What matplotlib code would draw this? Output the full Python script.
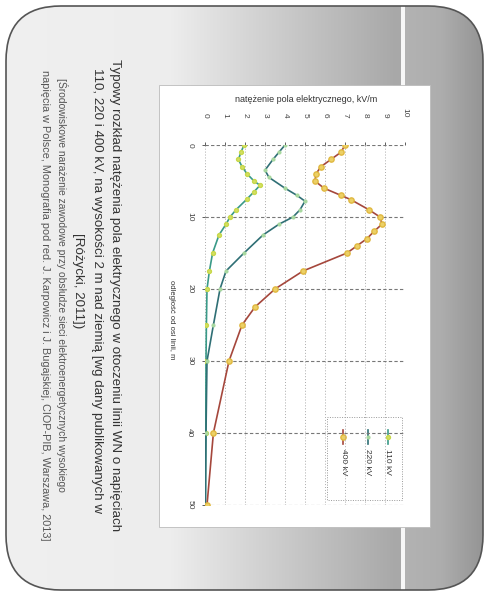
import numpy as np
import matplotlib
matplotlib.use('Agg')
import matplotlib.pyplot as plt
from matplotlib.patches import FancyBboxPatch, Rectangle
from matplotlib.lines import Line2D

plt.rcParams['font.family'] = ['Liberation Sans', 'DejaVu Sans']

# data (distance from line axis in m, field in kV/m)
d_110 = [0, 1, 2, 3, 4, 5, 5.6, 6.5, 7.5, 9, 10, 11, 12.5, 15, 17.5, 20, 25, 30, 40, 50]
e_110 = [1.95, 1.8, 1.67, 1.85, 2.1, 2.45, 2.75, 2.45, 2.1, 1.55, 1.25, 1.05, 0.7, 0.38, 0.22, 0.1, 0.07, 0.05, 0.04, 0.02]

d_220 = [0, 1, 2, 3.5, 4.5, 6, 7, 7.8, 9, 10, 11, 12.5, 15, 17.5, 20, 25, 30, 40, 50]
e_220 = [4.0, 3.7, 3.4, 3.0, 3.2, 4.0, 4.6, 5.0, 4.75, 4.4, 3.7, 2.9, 1.95, 1.05, 0.75, 0.42, 0.1, 0.05, 0.02]

d_400 = [0, 1, 2, 3, 4, 5, 6, 7, 7.6, 9, 10, 11, 12, 13, 14, 15, 17.5, 20, 22.5, 25, 30, 40, 50]
e_400 = [7.0, 6.8, 6.3, 5.8, 5.55, 5.5, 5.95, 6.8, 7.3, 8.2, 8.75, 8.85, 8.45, 8.1, 7.6, 7.1, 4.9, 3.5, 2.5, 1.85, 1.2, 0.42, 0.1]

series_labels = ['110 kV', '220 kV', '400 kV']
value_ticks = list(range(0, 11))
dist_ticks = [0, 10, 20, 30, 40, 50]

title_lines = [
    'Typowy rozkład natężenia pola elektrycznego w otoczeniu linii WN o napięciach',
    '110, 220 i 400 kV, na wysokości 2 m nad ziemią [wg dany publikowanych w',
    '[Różycki, 2011])',
]
source_lines = [
    '[Środowiskowe narażenie zawodowe przy obsłudze sieci elektroenergetycznych wysokiego',
    'napięcia w Polsce, Monografia pod red. J. Karpowicz i J. Bugajskiej, CIOP-PIB, Warszawa, 2013]',
]

W, H = 489, 596
fig = plt.figure(figsize=(W / 100, H / 100), dpi=100)

# slide background in pixel coordinates
bg = fig.add_axes([0, 0, 1, 1])
bg.set_xlim(0, W)
bg.set_ylim(H, 0)
bg.axis('off')

xs = np.arange(W)
shade = np.interp(xs, [0, 170, 395, 400, 401, 404, 405, 440, 484, 489],
                  [0.94, 0.93, 0.66, 0.66, 0.97, 0.97, 0.70, 0.68, 0.58, 0.58])
rgb = np.dstack([np.tile(shade, (H, 1))] * 3)
im = bg.imshow(rgb, extent=(0, W, H, 0), aspect='auto', interpolation='bilinear')
slide = FancyBboxPatch((6, 6), 477, 584, boxstyle='round,pad=0,rounding_size=55',
                       fc='none', ec='#555555', lw=1.2)
bg.add_patch(slide)
im.set_clip_path(slide)

bg.add_patch(Rectangle((159, 85), 271, 442, fc='white', ec='#bbbbbb', lw=0.6))

# slide text (rotated)
bg.text(115, 295, title_lines[0], rotation=-90, ha='center', va='center', fontsize=9.6, color='#333333')
bg.text(97, 291, title_lines[1], rotation=-90, ha='center', va='center', fontsize=9.6, color='#333333')
bg.text(78, 281, title_lines[2], rotation=-90, ha='center', va='center', fontsize=9.6, color='#333333')
bg.text(62, 285, source_lines[0], rotation=-90, ha='center', va='center', fontsize=7.4, color='#555555')
bg.text(45, 305, source_lines[1], rotation=-90, ha='center', va='center', fontsize=7.8, color='#555555')

bg.text(306, 100, 'natężenie pola elektrycznego, kV/m', ha='center', va='center', fontsize=6.5, color='#333333')
bg.text(172, 320, 'odległość od osi linii, m', rotation=-90, ha='center', va='center', fontsize=5.5, color='#333333')

# chart (rotated: values along x, distance downward)
ax = fig.add_axes([205 / W, 1 - 505 / H, 200 / W, 360 / H])
ax.set_facecolor('none')
ax.plot(e_110, d_110, color='#3a9a88', lw=1.2, marker='o', ms=2.8, mfc='#d4e066', mec='#c8d84a', label=series_labels[0], zorder=3)
ax.plot(e_220, d_220, color='#2f6f75', lw=1.2, marker='o', ms=2, mfc='#a8d8a0', mec='#a8d8a0', label=series_labels[1], zorder=3)
ax.plot(e_400, d_400, color='#a5473c', lw=1.2, marker='o', ms=3.8, mfc='#ecd066', mec='#e0b840', label=series_labels[2], zorder=3)

ax.set_xlim(0, 10)
ax.set_ylim(50, 0)
ax.set_xticks(value_ticks)
ax.set_yticks(dist_ticks)
ax.xaxis.tick_top()
ax.tick_params(axis='both', labelsize=6, colors='#444444', length=2.5, width=0.6)
ax.tick_params(axis='x', pad=17)
ax.tick_params(axis='y', pad=6)
for t in ax.get_xticklabels():
    t.set_rotation(-90)
for t in ax.get_yticklabels():
    t.set_rotation(-90)
    t.set_va('center')
ax.grid(axis='x', color='#aaaaaa', lw=0.7, ls=(0, (1, 2)))
ax.grid(axis='y', color='#777777', lw=0.8, ls=(0, (3, 2)))
for s in ax.spines.values():
    s.set_visible(False)

# legend, drawn rotated like the rest of the chart
bg.add_patch(Rectangle((327, 417), 75, 83, fill=False, ec='#999999', lw=0.7, ls=(0, (1, 1.5))))
handles = ax.get_lines()
for hx, line, lab in zip([388, 368, 343], handles, series_labels):
    bg.add_line(Line2D([hx, hx], [430, 444], color=line.get_color(), lw=1.2))
    bg.plot([hx], [437], marker='o', ms=line.get_markersize(), mfc=line.get_markerfacecolor(),
            mec=line.get_markeredgecolor())
    bg.text(hx, 449, lab, rotation=-90, ha='center', va='top', fontsize=6, color='#333333')

fig.savefig('out.png', dpi=100)
